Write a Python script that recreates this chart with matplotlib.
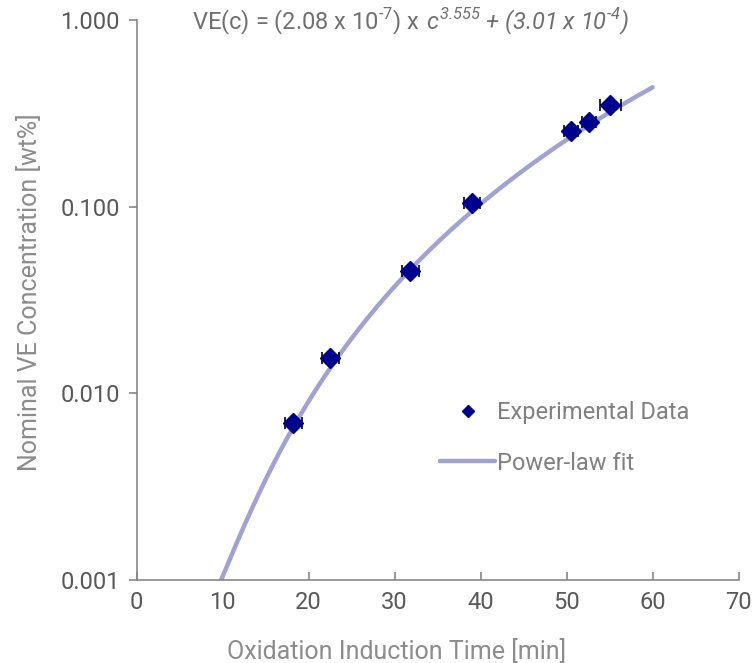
import numpy as np
import matplotlib
matplotlib.use("Agg")
import matplotlib.pyplot as plt
from matplotlib.ticker import FixedLocator, FixedFormatter, NullLocator

plt.rcParams['font.family'] = ['Roboto', 'DejaVu Sans']

# Data
oit = [18.2, 22.5, 31.8, 39.0, 50.5, 52.6, 55.1]
conc = [0.0069, 0.0155, 0.0455, 0.105, 0.255, 0.283, 0.350]
oit_err = [1.0, 1.0, 1.0, 0.9, 0.8, 0.8, 1.2]

# Power-law fit parameters
a_coef = 2.08e-7
b_exp = 3.555
c_off = 3.01e-4
fit_start, fit_end = 9.7, 60.0

x_ticks = [0, 10, 20, 30, 40, 50, 60, 70]
y_ticks = [0.001, 0.010, 0.100, 1.000]
y_tick_labels = ["0.001", "0.010", "0.100", "1.000"]

FS = 17

fig = plt.figure(figsize=(7.56, 6.63), dpi=100)
ax = fig.add_axes([0.1808, 0.1252, 0.7962, 0.8446])

xf = np.linspace(fit_start, fit_end, 400)
yf = a_coef * xf ** b_exp + c_off
line, = ax.plot(xf, yf, color='#a0a3d1', lw=3.2, solid_capstyle='round',
                label='Power-law fit', zorder=2)

ax.errorbar(oit, conc, xerr=oit_err, fmt='none', ecolor='black', elinewidth=1.2,
            capsize=4, capthick=1.2, zorder=3)
pts, = ax.plot(oit, conc, linestyle='none', marker='D', markersize=10, color='#00008f',
               label='Experimental Data', zorder=4)

ax.set_yscale('log')
ax.set_xlim(0, 70)
ax.set_ylim(0.001, 1.0)
ax.yaxis.set_major_locator(FixedLocator(y_ticks))
ax.yaxis.set_major_formatter(FixedFormatter(y_tick_labels))
ax.yaxis.set_minor_locator(NullLocator())
ax.set_xticks(x_ticks)

for s in ['top', 'right']:
    ax.spines[s].set_visible(False)
for s in ['left', 'bottom']:
    ax.spines[s].set_color('#868686')
    ax.spines[s].set_linewidth(1.2)

ax.tick_params(axis='y', direction='out', length=6, width=1.2, color='#868686',
               labelsize=FS, labelcolor='#595959', pad=6)
ax.tick_params(axis='x', direction='in', length=6, width=1.2, color='#868686',
               labelsize=FS, labelcolor='#595959', pad=8)

ax.set_xlabel('Oxidation Induction Time [min]', fontsize=18, color='#8c8c8c',
              labelpad=18, x=0.431)
ax.set_ylabel('Nominal VE Concentration [wt%]', fontsize=18, color='#8c8c8c',
              labelpad=13, y=0.514)

part1 = "VE(c) = (2.08 x 10$^{\\mathregular{\u2010 7}}$) x "
part2 = " c$^{\\mathregular{3.555}}$ + (3.01 x 10$^{\\mathregular{\u2010 4}}$)"
t1 = ax.text(0.092, 0.997, part1, transform=ax.transAxes, ha='left', va='center',
             fontsize=FS, color='#707070')
ax.annotate(part2, xy=(1, 0), xycoords=t1, ha='left', va='bottom',
            fontsize=FS, color='#707070', fontstyle='italic')

leg = ax.legend([pts, line], ['Experimental Data', 'Power-law fit'],
                loc='upper left', bbox_to_anchor=(0.504, 0.319), frameon=False,
                fontsize=FS, labelcolor='#808080', handlelength=2.33, handletextpad=0.1,
                labelspacing=1.15, borderpad=0, borderaxespad=0, markerscale=0.65)
fig.savefig('out.png', dpi=100)
